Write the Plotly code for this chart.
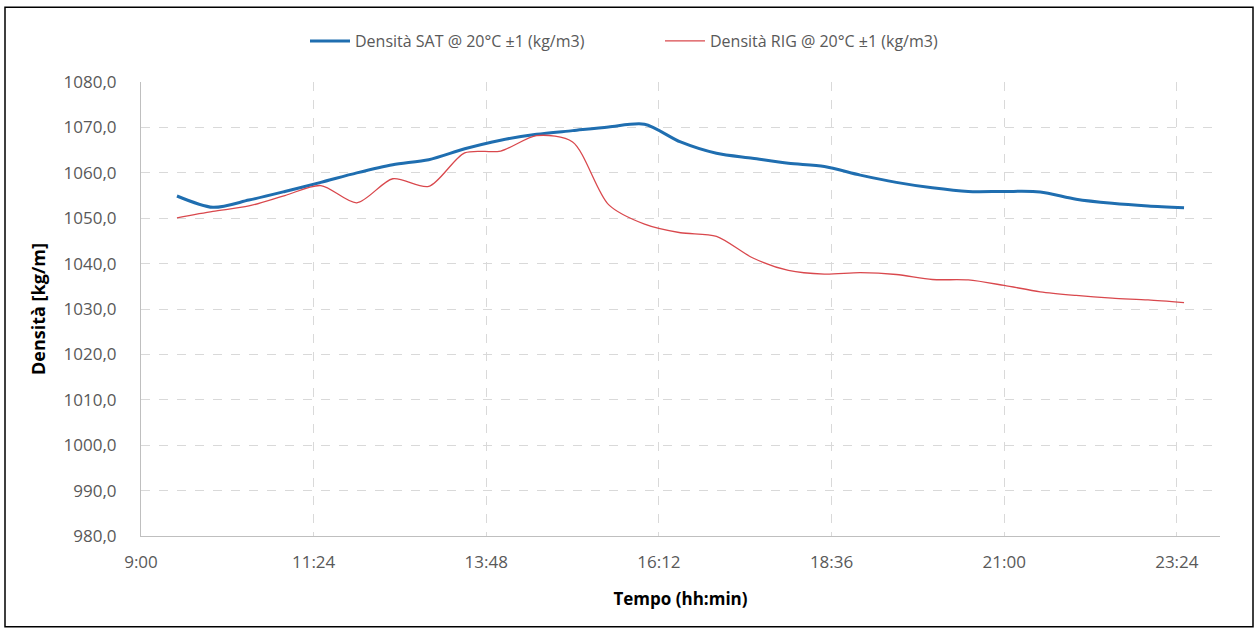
import plotly.graph_objects as go

times = ["09:30", "10:00", "10:30", "11:00", "11:30", "12:00", "12:30", "13:00",
         "13:30", "14:00", "14:30", "15:00", "15:30", "16:00", "16:30", "17:00",
         "17:30", "18:00", "18:30", "19:00", "19:30", "20:00", "20:30", "21:00",
         "21:30", "22:00", "22:30", "23:00", "23:30"]

sat = [1054.9, 1052.4, 1054.0, 1055.9, 1057.9, 1060.0, 1061.8, 1062.9,
       1065.3, 1067.2, 1068.5, 1069.3, 1070.1, 1070.7, 1066.8, 1064.3,
       1063.2, 1062.1, 1061.4, 1059.5, 1057.9, 1056.7, 1055.9, 1055.9,
       1055.8, 1054.2, 1053.3, 1052.7, 1052.3]

rig = [1050.1, 1051.5, 1052.7, 1055.0, 1057.2, 1053.4, 1058.7, 1057.0,
       1064.4, 1064.8, 1068.2, 1066.8, 1053.0, 1048.7, 1046.8, 1046.0,
       1041.3, 1038.5, 1037.7, 1038.0, 1037.6, 1036.5, 1036.4, 1035.2,
       1033.8, 1033.0, 1032.4, 1032.0, 1031.4]

x_dates = ["2024-01-01 " + t for t in times]

FONT = "Open Sans"
TICK_COLOR = "#595959"
GRID = "#d9d9d9"

fig = go.Figure()
fig.add_trace(go.Scatter(
    x=x_dates, y=sat, mode="lines", name="Densità SAT @ 20°C ±1 (kg/m3)",
    line=dict(color="#1f6eb0", width=3, shape="spline", smoothing=0.8)))
fig.add_trace(go.Scatter(
    x=x_dates, y=rig, mode="lines", name="Densità RIG @ 20°C ±1 (kg/m3)",
    line=dict(color="#d9484d", width=1.3, shape="spline", smoothing=0.8)))

L, R, T, B = 141, 39, 81, 97
W, H = 1259, 633
pw, ph = W - L - R, H - T - B

fig.update_layout(
    width=W, height=H,
    margin=dict(l=L, r=R, t=T, b=B),
    paper_bgcolor="white", plot_bgcolor="white",
    separators=",.",
    font=dict(family=FONT, color=TICK_COLOR, size=16),
    showlegend=True,
    legend=dict(orientation="h", xref="container", yref="container",
                x=305 / W, xanchor="left", y=1 - 24 / H, yanchor="top",
                font=dict(family=FONT, size=16, color=TICK_COLOR),
                itemwidth=40, entrywidth=300, entrywidthmode="pixels",
                bgcolor="rgba(0,0,0,0)"),
    shapes=[dict(type="rect", xref="paper", yref="paper",
                 x0=(5 - L) / pw, x1=(1253 - L) / pw,
                 y0=(H - B - 627) / ph, y1=(H - B - 6) / ph,
                 line=dict(color="black", width=1.5), layer="below")],
)

fig.update_xaxes(
    type="date",
    range=["2024-01-01 09:00", "2024-01-02 00:00"],
    tick0="2024-01-01 09:00", dtick=144 * 60 * 1000,
    tickformat="%-H:%M",
    showgrid=True, gridcolor=GRID, griddash="dash", gridwidth=1,
    showline=True, linecolor="#bfbfbf", linewidth=1,
    ticks="", ticklabelstandoff=11,
    tickfont=dict(family=FONT, size=17, color=TICK_COLOR),
    title=dict(text="<b>Tempo (hh:min)</b>", standoff=20,
               font=dict(family=FONT, size=17, color="black")),
    zeroline=False,
)

fig.update_yaxes(
    range=[980, 1080], dtick=10, tick0=980,
    tickformat=".1f",
    showgrid=True, gridcolor=GRID, griddash="dash", gridwidth=1,
    showline=True, linecolor="#bfbfbf", linewidth=1,
    ticks="", ticklabelstandoff=20,
    tickfont=dict(family=FONT, size=17, color=TICK_COLOR),
    title=dict(text="<b>Densità [kg/m]</b>", standoff=13,
               font=dict(family=FONT, size=18, color="black")),
    zeroline=False,
)

fig.write_html("out.html", config={"displayModeBar": False},
               post_script="document.body.style.margin='0';")
